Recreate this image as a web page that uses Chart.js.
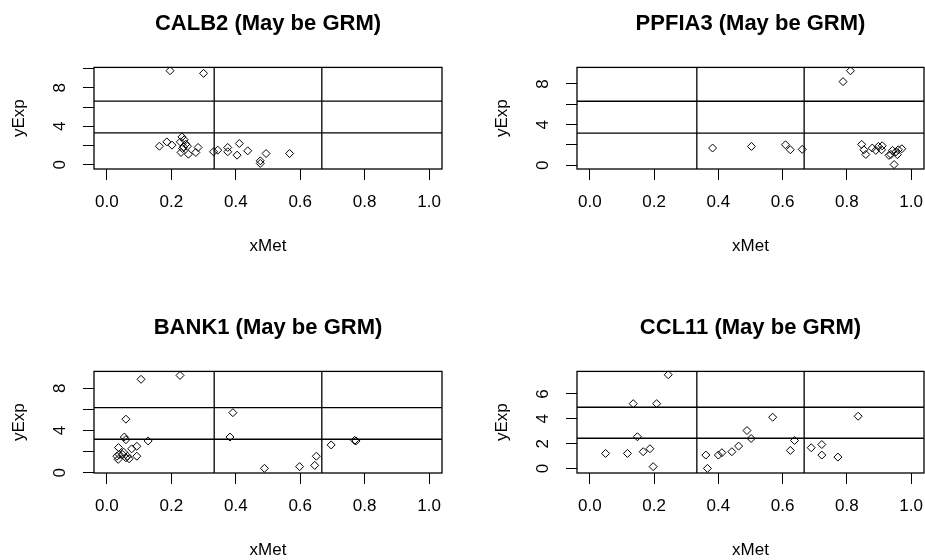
<!DOCTYPE html>
<html>
<head>
<meta charset="utf-8">
<script src="https://cdn.jsdelivr.net/npm/chart.js@4.4.0/dist/chart.umd.min.js"></script>
<style>
  body { margin: 0; background: #fff; overflow: hidden; width: 925px; height: 560px; position: relative; }
  canvas { position: absolute; }
</style>
</head>
<body>
<canvas id="c1" width="462" height="280" style="left:0;top:0"></canvas>
<canvas id="c2" width="462" height="280" style="left:483px;top:0"></canvas>
<canvas id="c3" width="462" height="280" style="left:0;top:304px"></canvas>
<canvas id="c4" width="462" height="280" style="left:483px;top:304px"></canvas>
<script>
// values
const xTicks = [0, 0.2, 0.4, 0.6, 0.8, 1.0];
const xRange = [-0.04, 1.04];
const xCuts = [0.333, 0.667];

const calb2X = [0.196, 0.300, 0.163, 0.186, 0.202, 0.233, 0.228, 0.245, 0.238, 0.250, 0.230, 0.253, 0.276, 0.283, 0.240, 0.235, 0.331, 0.344, 0.375, 0.375, 0.404, 0.411, 0.437, 0.476, 0.476, 0.494, 0.567];
const calb2Y = [9.79, 9.51, 1.93, 2.38, 2.04, 2.90, 2.38, 2.14, 1.86, 1.93, 1.28, 1.10, 1.28, 1.80, 2.60, 1.69, 1.35, 1.52, 1.80, 1.35, 1.00, 2.21, 1.45, 0.41, 0.14, 1.17, 1.17];
const calb2YTicks = [0, 2, 4, 6, 8, 10];
const calb2YLabels = [0, 4, 8];
const calb2YRange = [-0.44, 10.13];
const calb2Cuts = [3.31, 6.62];

const ppfia3X = [0.382, 0.503, 0.609, 0.624, 0.661, 0.788, 0.811, 0.846, 0.853, 0.859, 0.879, 0.890, 0.898, 0.910, 0.908, 0.931, 0.937, 0.942, 0.952, 0.957, 0.960, 0.971, 0.947];
const ppfia3Y = [1.70, 1.86, 2.02, 1.53, 1.57, 8.23, 9.30, 2.06, 1.53, 1.07, 1.70, 1.47, 1.86, 1.92, 1.53, 0.98, 1.07, 1.47, 1.31, 1.05, 1.53, 1.63, 0.08];
const ppfia3YTicks = [0, 2, 4, 6, 8];
const ppfia3YLabels = [0, 4, 8];
const ppfia3YRange = [-0.36, 9.63];
const ppfia3Cuts = [3.16, 6.30];

const bank1X = [0.106, 0.227, 0.059, 0.054, 0.059, 0.128, 0.036, 0.093, 0.077, 0.052, 0.031, 0.038, 0.035, 0.064, 0.069, 0.093, 0.049, 0.059, 0.391, 0.382, 0.489, 0.598, 0.645, 0.650, 0.696, 0.769, 0.773];
const bank1Y = [8.86, 9.23, 5.08, 3.39, 3.14, 3.02, 2.39, 2.51, 2.27, 1.95, 1.57, 1.73, 1.27, 1.57, 1.33, 1.57, 1.73, 1.42, 5.70, 3.39, 0.42, 0.58, 0.70, 1.57, 2.64, 3.07, 3.02];
const bank1YTicks = [0, 2, 4, 6, 8];
const bank1YLabels = [0, 4, 8];
const bank1YRange = [-0.02, 9.61];
const bank1Cuts = [3.18, 6.17];

const ccl11X = [0.049, 0.117, 0.135, 0.148, 0.166, 0.187, 0.197, 0.208, 0.244, 0.361, 0.366, 0.400, 0.411, 0.442, 0.463, 0.489, 0.502, 0.569, 0.624, 0.637, 0.689, 0.722, 0.722, 0.772, 0.835];
const ccl11Y = [1.22, 1.22, 5.22, 2.56, 1.36, 1.60, 0.16, 5.22, 7.54, 1.09, 0.02, 1.09, 1.28, 1.36, 1.81, 3.06, 2.42, 4.13, 1.46, 2.26, 1.68, 1.94, 1.09, 0.93, 4.21];
const ccl11YTicks = [0, 2, 4, 6];
const ccl11YLabels = [0, 2, 4, 6];
const ccl11YRange = [-0.35, 7.81];
const ccl11Cuts = [2.44, 4.93];

const FONT = "'Liberation Sans', Arial, sans-serif";

// box around the plot area + y labels turned like R does
const rStyle = {
  id: "rStyle",
  afterDatasetsDraw(chart) {
    const a = chart.chartArea;
    const ctx = chart.ctx;
    ctx.save();
    ctx.strokeStyle = "#000";
    ctx.lineWidth = 1.3;
    ctx.strokeRect(a.left, a.top, a.right - a.left, a.bottom - a.top);
    ctx.restore();
  },
  afterDraw(chart, args, opts) {
    const ctx = chart.ctx;
    const y = chart.scales.y;
    ctx.save();
    ctx.fillStyle = "#000";
    ctx.font = "17px " + FONT;
    ctx.textAlign = "center";
    ctx.textBaseline = "middle";
    opts.labels.forEach((v) => {
      const py = y.getPixelForValue(v);
      ctx.save();
      ctx.translate(60.5, py);
      ctx.rotate(-Math.PI / 2);
      ctx.fillText(String(v), 0, 0);
      ctx.restore();
    });
    ctx.restore();
  },
};

function panel(id, title, xs, ys, yTicks, yLabels, yRange, cuts, padRight) {
  const pts = xs.map((x, i) => ({ x: x, y: ys[i] }));
  const sets = [
    {
      data: pts,
      pointStyle: "rectRot",
      pointRadius: 4,
      borderColor: "#000",
      backgroundColor: "rgba(0,0,0,0)",
      pointBorderWidth: 1,
    },
  ];
  cuts.forEach((c) => {
    sets.push({
      data: [{ x: xRange[0], y: c }, { x: xRange[1], y: c }],
      showLine: true, pointRadius: 0, borderColor: "#000", borderWidth: 1.3,
    });
  });
  xCuts.forEach((c) => {
    sets.push({
      data: [{ x: c, y: yRange[0] }, { x: c, y: yRange[1] }],
      showLine: true, pointRadius: 0, borderColor: "#000", borderWidth: 1.3,
    });
  });

  return new Chart(document.getElementById(id), {
    type: "scatter",
    data: { datasets: sets },
    plugins: [rStyle],
    options: {
      responsive: false,
      animation: false,
      events: [],
      layout: { padding: { left: 0, right: padRight, top: 0, bottom: 0 } },
      plugins: {
        legend: { display: false },
        tooltip: { enabled: false },
        title: {
          display: true,
          text: title,
          fullSize: false,
          color: "#000",
          font: { family: FONT, size: 22, weight: "bold" },
          padding: { top: 11, bottom: 30 },
        },
        rStyle: { labels: yLabels },
      },
      scales: {
        x: {
          type: "linear",
          min: xRange[0],
          max: xRange[1],
          afterBuildTicks: (s) => { s.ticks = xTicks.map((v) => ({ value: v })); },
          afterFit: (s) => { s.height = 111; },
          border: { display: false },
          grid: { drawOnChartArea: false, drawTicks: true, tickLength: 11, color: "#000", lineWidth: 1 },
          ticks: {
            color: "#000",
            padding: 12,
            maxRotation: 0,
            font: { family: FONT, size: 17 },
            callback: (v) => Number(v).toFixed(1),
          },
          title: {
            display: true,
            text: "xMet",
            color: "#000",
            font: { family: FONT, size: 17 },
            padding: { top: 0, bottom: 23 },
          },
        },
        y: {
          type: "linear",
          min: yRange[0],
          max: yRange[1],
          afterBuildTicks: (s) => { s.ticks = yTicks.map((v) => ({ value: v })); },
          afterFit: (s) => { s.width = 94; },
          border: { display: false },
          grid: { drawOnChartArea: false, drawTicks: true, tickLength: 11, color: "#000", lineWidth: 1 },
          ticks: { display: false },
          title: {
            display: true,
            text: "yExp",
            color: "#000",
            font: { family: FONT, size: 17 },
            padding: { top: 9, bottom: 0 },
          },
        },
      },
    },
  });
}

panel("c1", "CALB2 (May be GRM)", calb2X, calb2Y, calb2YTicks, calb2YLabels, calb2YRange, calb2Cuts, 20);
panel("c2", "PPFIA3 (May be GRM)", ppfia3X, ppfia3Y, ppfia3YTicks, ppfia3YLabels, ppfia3YRange, ppfia3Cuts, 21);
panel("c3", "BANK1 (May be GRM)", bank1X, bank1Y, bank1YTicks, bank1YLabels, bank1YRange, bank1Cuts, 20);
panel("c4", "CCL11 (May be GRM)", ccl11X, ccl11Y, ccl11YTicks, ccl11YLabels, ccl11YRange, ccl11Cuts, 21);
</script>
</body>
</html>
